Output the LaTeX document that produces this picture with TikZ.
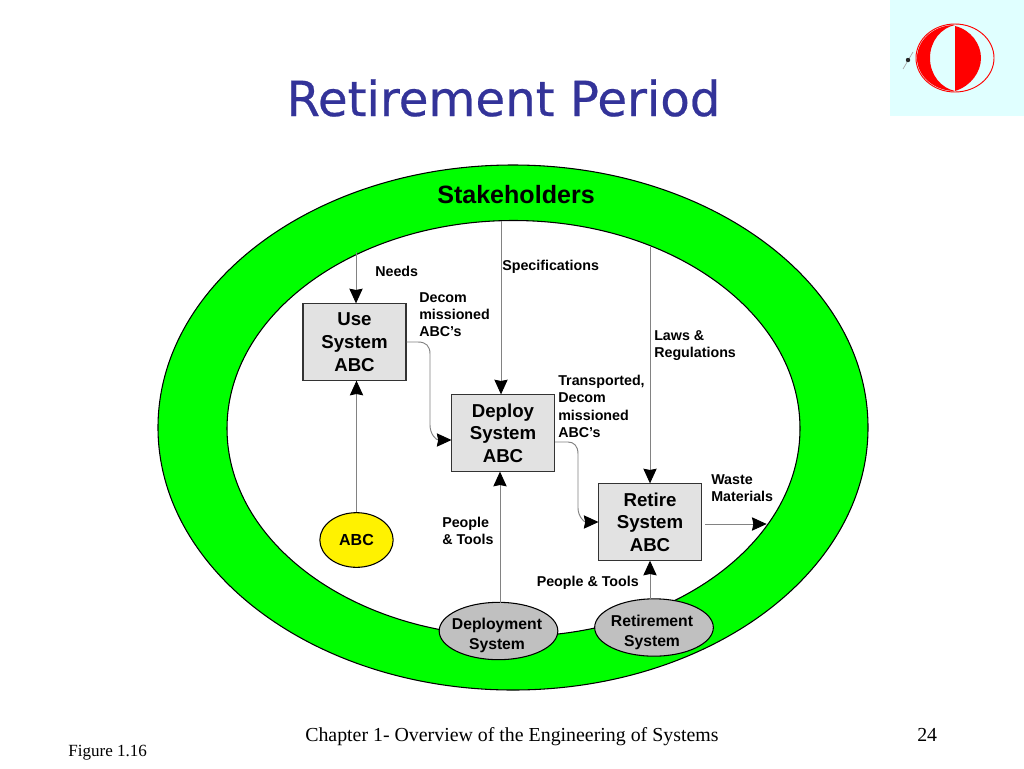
\documentclass[tikz,border=0pt]{standalone}
\usepackage{fontspec}
\setmainfont{Liberation Sans}
\newfontfamily\titlefont[FakeBold=0.5]{DejaVu Sans}
\newfontfamily\serifface{Liberation Serif}
\usetikzlibrary{arrows.meta,shapes.geometric}
\definecolor{ringgreen}{RGB}{0,255,0}
\definecolor{boxgray}{RGB}{226,226,226}
\definecolor{ovalgray}{RGB}{192,192,192}
\definecolor{titleblue}{RGB}{51,51,153}
\definecolor{logobg}{RGB}{224,255,255}
\definecolor{linegray}{RGB}{130,130,130}
\definecolor{logored}{RGB}{255,0,0}
\tikzset{
  x=0.75pt,y=-0.75pt,
  box/.style={draw=black!80,line width=1pt,fill=boxgray,minimum width=77.25pt,minimum height=58pt,inner sep=0pt,align=center,font=\fontsize{14}{17}\selectfont\bfseries},
  oval/.style={draw=black,line width=0.8pt,fill=ovalgray,ellipse,minimum width=89pt,minimum height=43pt,inner sep=0pt},
  ovaltext/.style={inner sep=0pt,align=center,font=\fontsize{11.8}{15.5}\selectfont\bfseries},
  lab/.style={anchor=north west,inner sep=0pt,align=left,font=\fontsize{10.7}{12.9}\selectfont\bfseries},
  flow/.style={draw=linegray,line width=0.7pt,-{Stealth[black,length=11pt,width=10pt,inset=1pt]},shorten >=-0.5pt}
}
\begin{document}
\begin{tikzpicture}
\useasboundingbox (0,0) rectangle (1024,768);
\fill[white] (0,0) rectangle (1024,768);
% logo
\fill[logobg] (890,0) rectangle (1024,116);
\draw[logored,line width=0.7pt] (955,58) ellipse [x radius=39,y radius=34];
\fill[logored] (955,25) .. controls (934,25) and (917,40) .. (917,58) .. controls (917,76) and (934,91) .. (955,91)
  .. controls (941,88) and (930,75) .. (930,58) .. controls (930,41) and (941,28) .. (955,25) -- cycle;
\fill[logored] (955,26) .. controls (971,30) and (981,44) .. (981,58) .. controls (981,72) and (971,86) .. (955,91) -- cycle;
\draw[gray!70,line width=0.5pt] (903,69) -- (913,52);
\fill[gray!30!black] (908,60) circle (2.2);
% title
\node[anchor=base,inner sep=0pt,text=titleblue,font=\fontsize{36.2}{40}\titlefont] (title) at (503.5,116) {Retirement Period};
% ring
\path[fill=ringgreen,draw=black,line width=0.8pt,even odd rule]
  (513,427.5) ellipse [x radius=355,y radius=262.5]
  (513.5,428.5) ellipse [x radius=286.5,y radius=208];
\node[inner sep=0pt,font=\fontsize{18.8}{22}\selectfont\bfseries] (stake) at (516,195) {Stakeholders};
% free ends
\coordinate (needsStart) at (356,252);
\coordinate (specStart) at (501,221);
\coordinate (lawsStart) at (650,247);
\coordinate (wasteEnd) at (766,524);
% boxes
\node[box] (use) at (354.5,342) {Use\\System\\ABC};
\node[box] (deploy) at (503,433) {Deploy\\System\\ABC};
\node[box] (retire) at (650,522) {Retire\\System\\ABC};
\node[draw=black,line width=0.8pt,fill=yellow,ellipse,minimum width=55pt,minimum height=41pt,inner sep=0pt,font=\fontsize{12}{15}\selectfont\bfseries] (abc) at (356.5,540) {ABC};
\node[oval] (depsys) at (498.5,631) {};
\node[oval] (retsys) at (654,627.5) {};
\coordinate (depTop) at (500,603);
\coordinate (retTop) at (650,599);
% connectors
\draw[flow] (needsStart) -- (use.north -| needsStart);
\draw[flow] (specStart) -- (deploy.north -| specStart);
\draw[flow] (lawsStart) -- (retire.north -| lawsStart);
\draw[flow] (abc.north) -- (use.south -| abc.north);
\draw[flow] (depTop) -- (deploy.south -| depTop);
\draw[flow] (retTop) -- (retire.south -| retTop);
\draw[flow] (use.east |- 0,342) -- (418,342) .. controls (426,342) and (430,346) .. (430,354) -- (430,425) .. controls (430,434) and (436,440) .. (deploy.west |- 0,440);
\draw[flow] (deploy.east |- 0,442) -- (568,442) .. controls (574,442) and (578,446) .. (578,454) -- (578,508) .. controls (578,516) and (584,522) .. (retire.west);
\draw[flow] (705,524) -- (wasteEnd);
% oval texts
\node[ovaltext] (tdep) at (497,635.5) {Deployment\\System};
\node[ovaltext] (tret) at (652,632.5) {Retirement\\System};
% labels
\node[lab] (lneeds) at (375,265.5) {Needs};
\node[lab] (lspec) at (502,259.5) {Specifications};
\node[lab] (ldecom) at (419,292) {Decom\\missioned\\ABC’s};
\node[lab] (llaws) at (654,330) {Laws \&\\Regulations};
\node[lab] (ltrans) at (558,375) {Transported,\\Decom\\missioned\\ABC’s};
\node[lab] (lwaste) at (711,474) {Waste\\Materials};
\node[lab] (lpeople) at (442,516.5) {People\\\& Tools};
\node[lab] (lpt) at (536.5,575.5) {People \& Tools};
% footer
\node[anchor=base west,inner sep=0pt,font=\fontsize{14.9}{16}\serifface] (chap) at (305,741) {Chapter 1- Overview of the Engineering of Systems};
\node[anchor=base west,inner sep=0pt,font=\fontsize{14.9}{16}\serifface] (pg) at (917,741) {24};
\node[anchor=base west,inner sep=0pt,font=\fontsize{12.8}{13}\serifface] (fig) at (68,756) {Figure 1.16};
\end{tikzpicture}
\end{document}
